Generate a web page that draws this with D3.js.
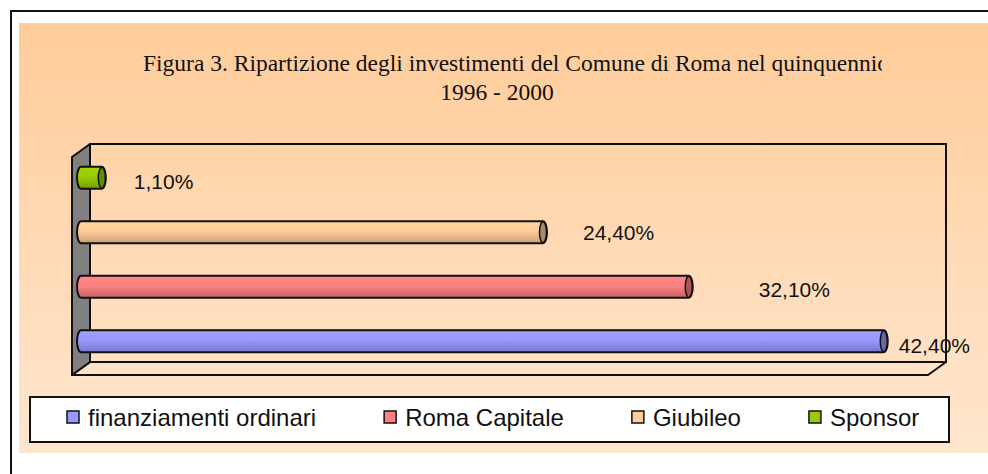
<!DOCTYPE html>
<html>
<head>
<meta charset="utf-8">
<script src="https://cdn.jsdelivr.net/npm/d3@7"></script>
<style>
  body { margin: 0; background: #fff; }
  svg { display: block; }
</style>
</head>
<body>
<div id="chart"></div>
<script>
var categories = ['finanziamenti ordinari', 'Roma Capitale', 'Giubileo', 'Sponsor'];
var values = [42.4, 32.1, 24.4, 1.1];
var barColors = ['#9999FF', '#FF8080', '#FFCC99', '#99CC00'];
var titleLines = ['Figura 3. Ripartizione degli investimenti del Comune di Roma nel quinquennio', '1996 - 2000'];

var width = 988, height = 474;

// small nudges so the labels sit where the original ones do
var labelDx = [11, 66, 36, 28],
    labelDy = [4.5, 2.5, 0.5, 4];

var itLocale = d3.formatLocale({ decimal: ',', thousands: '.', grouping: [3], currency: ['', ''] });
var fmt = itLocale.format('.2f');

var svg = d3.select('#chart').append('svg')
  .attr('width', width)
  .attr('height', height);

var defs = svg.append('defs');

var bg = defs.append('linearGradient')
  .attr('id', 'bgGrad')
  .attr('x1', 0).attr('y1', 0).attr('x2', 0).attr('y2', 1);
bg.append('stop').attr('offset', '0%').attr('stop-color', '#FFCC99');
bg.append('stop').attr('offset', '100%').attr('stop-color', '#FFE6CF');

barColors.forEach(function(c, i) {
  var g = defs.append('linearGradient')
    .attr('id', 'barGrad' + i)
    .attr('x1', 0).attr('y1', 0).attr('x2', 0).attr('y2', 1);
  g.append('stop').attr('offset', '0%').attr('stop-color', d3.color(c).brighter(0.15));
  g.append('stop').attr('offset', '45%').attr('stop-color', c);
  g.append('stop').attr('offset', '100%').attr('stop-color', d3.color(c).darker(0.7));
});

// the original title box cuts off the end of the first line
defs.append('clipPath').attr('id', 'titleClip')
  .append('rect').attr('x', 0).attr('y', 0).attr('width', 882).attr('height', 120);

// outer frame + chart area
svg.append('rect')
  .attr('x', 11).attr('y', 11)
  .attr('width', 1000).attr('height', 500)
  .attr('fill', 'none')
  .attr('stroke', '#111')
  .attr('stroke-width', 2);

svg.append('rect')
  .attr('x', 19).attr('y', 23)
  .attr('width', 980).attr('height', 430)
  .attr('fill', 'url(#bgGrad)');

// title
var title = svg.append('g').attr('clip-path', 'url(#titleClip)');
title.append('text')
  .attr('x', 143).attr('y', 71)
  .attr('font-family', '"Liberation Serif", "Times New Roman", serif')
  .attr('font-size', 23.5)
  .attr('fill', '#111')
  .text(titleLines[0]);
title.append('text')
  .attr('x', 497).attr('y', 100)
  .attr('text-anchor', 'middle')
  .attr('font-family', '"Liberation Serif", "Times New Roman", serif')
  .attr('font-size', 23.5)
  .attr('fill', '#111')
  .text(titleLines[1]);

// scales (mid-depth of the 3d box)
var depthX = 18, depthY = -13;

var xScale = d3.scaleLinear()
  .domain([0, 45])
  .range([85, 937]);

var yScale = d3.scaleBand()
  .domain(categories.slice().reverse())
  .range([150.5, 368.5])
  .paddingInner(0.6)
  .paddingOuter(0.3);

var fx0 = xScale.range()[0] - depthX / 2 - 4,
    fx1 = xScale.range()[1] - depthX / 2,
    fy0 = yScale.range()[0] - depthY / 2,
    fy1 = yScale.range()[1] - depthY / 2;

var box = svg.append('g');

// floor
box.append('polygon')
  .attr('points', [[fx0, fy1], [fx0 + depthX, fy1 + depthY], [fx1 + depthX, fy1 + depthY], [fx1, fy1]].join(' '))
  .attr('fill', '#FFE3C8')
  .attr('stroke', '#111')
  .attr('stroke-width', 2)
  .attr('stroke-linejoin', 'round');

// side wall
box.append('polygon')
  .attr('points', [[fx0, fy0], [fx0 + depthX, fy0 + depthY], [fx0 + depthX, fy1 + depthY], [fx0, fy1]].join(' '))
  .attr('fill', '#808080')
  .attr('stroke', '#111')
  .attr('stroke-width', 2)
  .attr('stroke-linejoin', 'round');

// back wall
box.append('rect')
  .attr('x', fx0 + depthX).attr('y', fy0 + depthY)
  .attr('width', fx1 - fx0).attr('height', fy1 - fy0)
  .attr('fill', 'none')
  .attr('stroke', '#111')
  .attr('stroke-width', 2);

// bars as cylinders
var bars = svg.append('g').selectAll('g')
  .data(categories)
  .enter().append('g');

bars.append('rect')
  .attr('x', xScale(0) - 8)
  .attr('y', function(d) { return yScale(d); })
  .attr('width', function(d, i) { return xScale(values[i]) - xScale(0) + 8; })
  .attr('height', yScale.bandwidth())
  .attr('rx', 4)
  .attr('ry', yScale.bandwidth() / 2)
  .attr('fill', function(d, i) { return 'url(#barGrad' + i + ')'; })
  .attr('stroke', '#111')
  .attr('stroke-width', 2);

bars.append('ellipse')
  .attr('cx', function(d, i) { return xScale(values[i]) - 4; })
  .attr('cy', function(d) { return yScale(d) + yScale.bandwidth() / 2; })
  .attr('rx', 3.5)
  .attr('ry', yScale.bandwidth() / 2 - 0.5)
  .attr('fill', function(d, i) { return d3.color(barColors[i]).darker(1.1); })
  .attr('stroke', '#111')
  .attr('stroke-width', 1.5);

bars.append('text')
  .attr('x', function(d, i) { return xScale(values[i]) + labelDx[i]; })
  .attr('y', function(d, i) { return yScale(d) + yScale.bandwidth() / 2 + labelDy[i] + 7.5; })
  .attr('font-family', '"Liberation Sans", Arial, sans-serif')
  .attr('font-size', 21)
  .attr('fill', '#111')
  .text(function(d, i) { return fmt(values[i]) + '%'; });

// legend
var legend = svg.append('g');
legend.append('rect')
  .attr('x', 30).attr('y', 397)
  .attr('width', 919).attr('height', 45)
  .attr('fill', '#fff')
  .attr('stroke', '#111')
  .attr('stroke-width', 2);

var lx = 67;
categories.forEach(function(c, i) {
  legend.append('rect')
    .attr('x', lx).attr('y', 411)
    .attr('width', 12).attr('height', 12)
    .attr('fill', barColors[i])
    .attr('stroke', '#111')
    .attr('stroke-width', 1.5);
  var t = legend.append('text')
    .attr('x', lx + 21).attr('y', 426)
    .attr('font-family', '"Liberation Sans", Arial, sans-serif')
    .attr('font-size', 24)
    .attr('fill', '#111')
    .text(c);
  lx = lx + 21 + t.node().getComputedTextLength() + 68;
});
</script>
</body>
</html>
